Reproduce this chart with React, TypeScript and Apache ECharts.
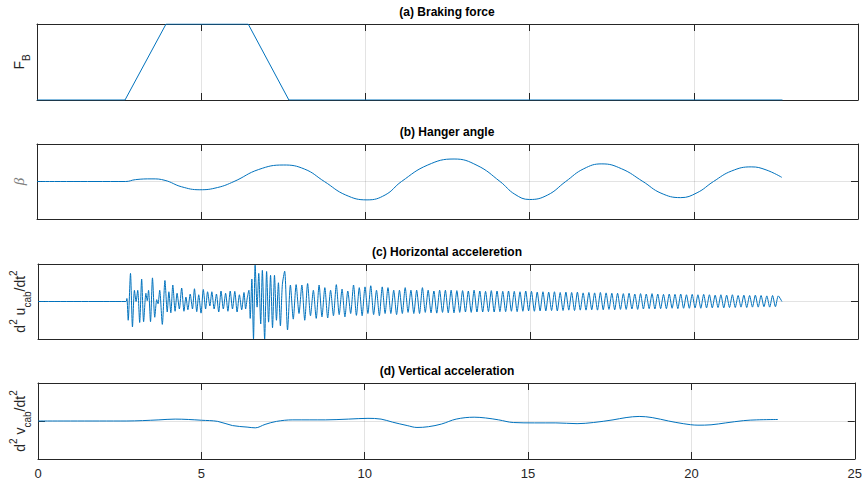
import React, { useEffect, useRef } from "react";
import * as echarts from "echarts";

// ---------- data ----------
const X_MIN = 0;
const X_MAX = 25;
const X_INTERVAL = 5;

const TITLES = [
  "(a) Braking force",
  "(b) Hanger angle",
  "(c) Horizontal acceleretion",
  "(d) Vertical acceleration",
];

// (a) braking force
const FB_T = [0, 2.68, 3.93, 6.43, 7.67, 22.7];
const FB_V = [0, 0, 1, 1, 0, 0];

// (b) hanger angle
const BETA_T = [0, 2.7, 3.0, 3.5, 3.9, 4.4, 4.96, 5.5, 6.0, 6.75, 7.5, 8.15, 8.75, 9.4, 10.05, 10.6, 11.1, 11.9, 12.7, 13.4, 14.1, 14.55, 15.0, 15.55, 16.1, 16.65, 17.2, 17.8, 18.45, 19.0, 19.6, 20.1, 20.6, 21.15, 21.75, 22.2, 22.68];
const BETA_V = [0, 0, 0.05, 0.07, 0.03, -0.14, -0.22, -0.16, 0.0, 0.32, 0.44, 0.33, 0.0, -0.36, -0.49, -0.36, 0.0, 0.44, 0.6, 0.43, 0.0, -0.34, -0.48, -0.36, 0.0, 0.34, 0.47, 0.34, 0.0, -0.31, -0.43, -0.3, 0.0, 0.28, 0.39, 0.31, 0.11];

// (c) horizontal acceleration: irregular start (time, value)
const AH_EARLY_T = [0, 2.68, 2.71, 2.75, 2.82, 2.88, 2.94, 2.99, 3.04, 3.1, 3.16, 3.22, 3.29, 3.33, 3.37, 3.43, 3.49, 3.56, 3.62, 3.66, 3.71, 3.79, 3.87, 3.94, 3.99, 4.05, 4.11, 4.18, 4.24, 4.31, 4.38, 4.45, 4.51, 4.57, 4.64, 4.71, 4.77, 4.84, 4.9, 4.97, 5.04, 5.11, 5.17, 5.24, 5.3, 5.37, 5.44, 5.51, 5.58, 5.65, 5.72, 5.79, 5.86, 5.93, 6.0, 6.07, 6.14, 6.21, 6.28, 6.33, 6.38, 6.43, 6.47, 6.52, 6.57, 6.62, 6.68, 6.73, 6.79, 6.84, 6.91, 6.97, 7.03, 7.09, 7.15, 7.21, 7.27, 7.33, 7.39, 7.45];
const AH_EARLY_V = [0, 0, 0.08, -0.5, 0.75, -0.68, 0.3, 0.0, 0.3, -0.56, 0.6, -0.54, 0.22, 0.02, 0.3, -0.54, 0.63, -0.42, 0.05, -0.06, 0.3, -0.61, 0.56, -0.28, 0.26, -0.3, 0.44, -0.26, 0.22, -0.2, 0.36, -0.26, 0.12, -0.22, 0.2, -0.2, 0.34, -0.27, 0.18, -0.31, 0.32, -0.2, 0.26, -0.12, 0.26, -0.2, 0.2, -0.28, 0.28, -0.2, 0.22, -0.26, 0.28, -0.2, 0.27, -0.28, 0.18, -0.22, 0.24, -0.2, 0.1, 0.3, -0.45, 0.6, -1.0, 0.97, -0.15, 0.75, -0.6, 0.83, -1.0, 0.8, -0.55, 0.7, -0.7, 0.7, -0.5, 0.5, -0.65, 0.45];
// (c) regular oscillation: start time, period, peak and trough values per cycle
const AH_T0 = 7.52;
const AH_PERIOD = 0.175;
const AH_PEAKS = [
  0.81, 0.44, 0.45, 0.44, 0.48, 0.3, 0.44, 0.37, 0.3, 0.45, 0.33, 0.28, 0.44, 0.37, 0.39, 0.42, 0.3, 0.39, 0.37, 0.3, 0.3, 0.37, 0.3, 0.3, 0.37, 0.3, 0.28, 0.3, 0.3,
  0.3, 0.29, 0.29, 0.28, 0.3, 0.28, 0.27, 0.29, 0.28, 0.27, 0.28, 0.27, 0.26, 0.28, 0.27, 0.25, 0.26, 0.25, 0.26, 0.24, 0.25, 0.24, 0.25, 0.23, 0.24, 0.23, 0.24, 0.23, 0.22,
  0.22, 0.21, 0.22, 0.2, 0.21, 0.2, 0.21, 0.2, 0.19, 0.2, 0.19, 0.2, 0.18, 0.19, 0.18, 0.19, 0.18, 0.17, 0.18, 0.17, 0.18, 0.16, 0.17, 0.16, 0.17, 0.16, 0.15, 0.16, 0.15,
];
const AH_TROUGHS = [
  -0.76, -0.47, -0.32, -0.5, -0.38, -0.45, -0.41, -0.44, -0.38, -0.35, -0.41, -0.32, -0.37, -0.38, -0.32, -0.35, -0.38, -0.32, -0.32, -0.35, -0.32, -0.29, -0.32, -0.32, -0.29, -0.3, -0.31, -0.29, -0.3,
  -0.3, -0.29, -0.28, -0.29, -0.28, -0.28, -0.27, -0.28, -0.27, -0.27, -0.26, -0.27, -0.26, -0.25, -0.26, -0.25, -0.25, -0.24, -0.25, -0.24, -0.23, -0.24, -0.23, -0.23, -0.22, -0.23, -0.22, -0.21, -0.22,
  -0.21, -0.21, -0.2, -0.21, -0.2, -0.19, -0.2, -0.19, -0.19, -0.18, -0.19, -0.18, -0.18, -0.17, -0.18, -0.17, -0.17, -0.16, -0.17, -0.16, -0.16, -0.15, -0.16, -0.15, -0.15, -0.14, -0.15, -0.14,
];
const AH_END_T = 22.68;
const AH_END_V = 0;

// (d) vertical acceleration
const AV_T = [0, 2.7, 3.2, 3.7, 4.2, 4.6, 5.0, 5.5, 5.95, 6.4, 6.65, 6.95, 7.3, 7.8, 8.8, 9.5, 10.1, 10.5, 10.85, 11.3, 11.6, 11.95, 12.35, 12.8, 13.35, 13.7, 14.1, 14.55, 15.2, 15.85, 16.5, 17.0, 17.6, 18.0, 18.4, 18.8, 19.3, 19.75, 20.2, 20.6, 21.05, 21.6, 22.0, 22.65];
const AV_V = [0, 0, 0.01, 0.03, 0.05, 0.04, 0.02, -0.01, -0.12, -0.16, -0.18, -0.09, -0.01, 0.03, 0.03, 0.05, 0.07, 0.05, -0.03, -0.12, -0.17, -0.15, -0.08, 0.05, 0.1, 0.08, 0.03, -0.04, -0.05, -0.05, -0.07, -0.04, 0.03, 0.09, 0.12, 0.09, 0.0, -0.07, -0.11, -0.1, -0.05, 0.01, 0.03, 0.04];

// ---------- helpers ----------
const zip = (t: number[], v: number[]) => t.map((x, i) => [x, v[i]]);

function buildAH(): number[][] {
  const out = zip(AH_EARLY_T, AH_EARLY_V);
  AH_PEAKS.forEach((p, i) => {
    const t = AH_T0 + i * AH_PERIOD;
    out.push([t, p]);
    if (i < AH_TROUGHS.length) out.push([t + AH_PERIOD / 2, AH_TROUGHS[i]]);
  });
  out.push([AH_END_T, AH_END_V]);
  return out;
}

const AXIS_COLOR = "#262626";
const GRID_COLOR = "rgba(38,38,38,0.13)";
const LINE_COLOR = "#0072BD";
const FONT = "'Liberation Sans', Arial, Helvetica, sans-serif";

const GRIDS = [
  { top: 24, height: 76, ymin: 0, ymax: 1 },
  { top: 144, height: 75, ymin: -1, ymax: 1 },
  { top: 264, height: 75, ymin: -1, ymax: 1 },
  { top: 383, height: 76, ymin: -1, ymax: 1 },
];

const SMOOTH = [false, 0.45, 0.25, 0.35];

const labelRich = {
  m: { fontSize: 14, fontFamily: FONT, color: AXIS_COLOR, lineHeight: 24, verticalAlign: "middle" },
  p: { fontSize: 10, fontFamily: FONT, color: AXIS_COLOR, lineHeight: 10, verticalAlign: "top" },
  s: { fontSize: 10, fontFamily: FONT, color: AXIS_COLOR, lineHeight: 10, verticalAlign: "bottom" },
  b: { fontSize: 15, fontFamily: "'Liberation Serif', 'DejaVu Serif', serif", fontStyle: "italic", color: "#808080", lineHeight: 24, verticalAlign: "middle" },
};

const Y_NAMES = [
  "{m|F}{s|B}",
  "{b|β}",
  "{m|d}{p|2}{m| u}{s|cab}{m|/dt}{p|2}",
  "{m|d}{p|2}{m| v}{s|cab}{m|/dt}{p|2}",
];

export default function App() {
  const ref = useRef<HTMLDivElement>(null);
  useEffect(() => {
    if (!ref.current) return;
    const chart = echarts.init(ref.current, undefined, { renderer: "svg" });
    const grid: any[] = [];
    const xAxis: any[] = [];
    const yAxis: any[] = [];
    const title: any[] = [];
    const seriesData = [zip(FB_T, FB_V), zip(BETA_T, BETA_V), buildAH(), zip(AV_T, AV_V)];
    const series: any[] = [];

    GRIDS.forEach((g, i) => {
      grid.push({ left: 37, right: 7, top: g.top, height: g.height, containLabel: false });
      title.push({
        text: TITLES[i],
        left: 447,
        textAlign: "center",
        top: g.top - 18,
        padding: 0,
        textStyle: { fontSize: 12, fontWeight: "bold", color: "#000", fontFamily: FONT },
      });
      const tick = { show: true, inside: true, length: 7, lineStyle: { color: AXIS_COLOR, width: 1 } };
      const line = { show: true, onZero: false, lineStyle: { color: AXIS_COLOR, width: 1 } };
      xAxis.push({
        type: "value",
        gridIndex: i,
        position: "bottom",
        min: X_MIN,
        max: X_MAX,
        interval: X_INTERVAL,
        axisLine: line,
        axisTick: tick,
        axisLabel: {
          show: i === 3,
          margin: 8,
          fontSize: 13,
          color: AXIS_COLOR,
          fontFamily: FONT,
          showMaxLabel: true,
        },
        splitLine: { show: true, showMinLine: false, showMaxLine: false, lineStyle: { color: GRID_COLOR, width: 1 } },
      });
      xAxis.push({
        type: "value",
        gridIndex: i,
        position: "top",
        min: X_MIN,
        max: X_MAX,
        interval: X_INTERVAL,
        axisLine: line,
        axisTick: tick,
        axisLabel: { show: false },
        splitLine: { show: false },
      });
      yAxis.push({
        type: "value",
        gridIndex: i,
        position: "left",
        min: g.ymin,
        max: g.ymax,
        interval: 1,
        axisLine: line,
        axisTick: tick,
        axisLabel: { show: false },
        splitLine: { show: true, showMinLine: false, showMaxLine: false, lineStyle: { color: GRID_COLOR, width: 1 } },
        name: Y_NAMES[i],
        nameLocation: "middle",
        nameRotate: 90,
        nameGap: 6,
        nameTextStyle: { rich: labelRich },
      });
      yAxis.push({
        type: "value",
        gridIndex: i,
        position: "right",
        min: g.ymin,
        max: g.ymax,
        interval: 1,
        axisLine: line,
        axisTick: tick,
        axisLabel: { show: false },
        splitLine: { show: false },
      });
      series.push({
        type: "line",
        xAxisIndex: i * 2,
        yAxisIndex: i * 2,
        data: seriesData[i],
        showSymbol: false,
        symbol: "none",
        smooth: SMOOTH[i],
        lineStyle: { color: LINE_COLOR, width: 1 },
        z: 5,
      });
    });

    chart.setOption({
      animation: false,
      backgroundColor: "#ffffff",
      title,
      grid,
      xAxis,
      yAxis,
      series,
    });
    return () => chart.dispose();
  }, []);
  return (
    <div
      ref={ref}
      style={{ position: "fixed", left: 0, top: 0, width: 865, height: 482, background: "#fff" }}
    />
  );
}
